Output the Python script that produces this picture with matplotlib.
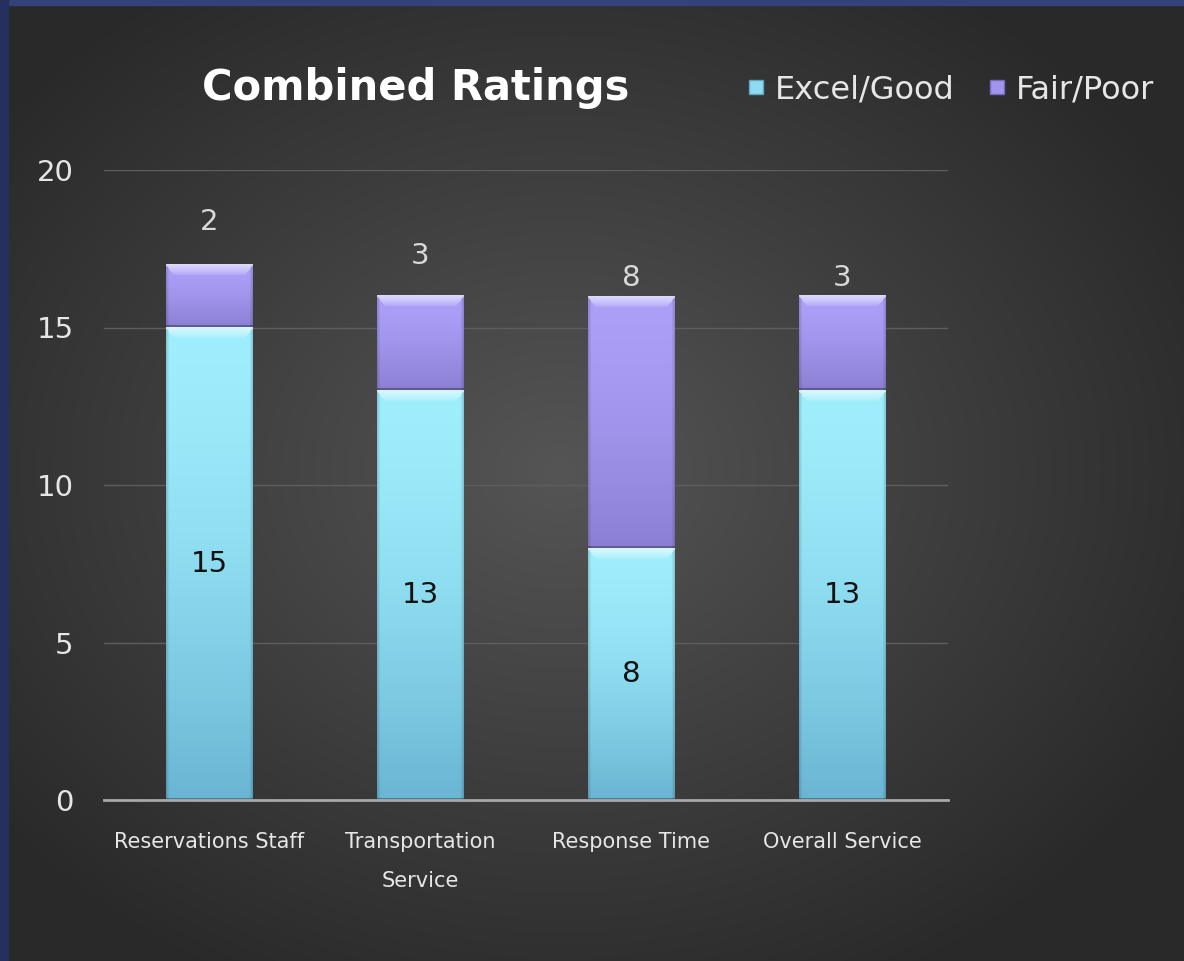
import numpy as np
import matplotlib.pyplot as plt
from matplotlib.colors import to_rgb
from matplotlib.lines import Line2D
from matplotlib.patches import Rectangle

# data
categories = ["Reservations Staff", "Transportation\nService", "Response Time", "Overall Service"]
excel_good = [15, 13, 8, 13]
fair_poor = [2, 3, 8, 3]
yticks = [0, 5, 10, 15, 20]

# label lift above the stacks (pixels), as placed in the original
fp_label_lift = [42, 40, 18, 18]

good_top, good_bot = "#9eeefd", "#69b5d3"
poor_top, poor_bot = "#ab9ff8", "#8a7fd2"

W, H, DPI = 1184, 961, 100
fig = plt.figure(figsize=(W / DPI, H / DPI), dpi=DPI)

# background: dark panel with a soft radial glow + blue frame strips
bg = fig.add_axes([0, 0, 1, 1], zorder=-10)
bg.set_axis_off()
yy, xx = np.mgrid[0:H, 0:W]
r = np.sqrt(((xx - 560) / 720.0) ** 2 + ((yy - 470) / 580.0) ** 2)
t = np.clip(r, 0, 1) ** 1.0
c_in = np.array(to_rgb("#555555"))
c_out = np.array(to_rgb("#292929"))
img = c_in[None, None, :] * (1 - t[..., None]) + c_out[None, None, :] * t[..., None]
bg.imshow(img, extent=[0, 1, 0, 1], aspect="auto", origin="upper")
bg.set_xlim(0, 1)
bg.set_ylim(0, 1)
bg.add_patch(Rectangle((0, 1 - 5 / H), 1, 5 / H, color="#34427a", transform=bg.transAxes))
bg.add_patch(Rectangle((0, 0), 8 / W, 1, color="#25305f", transform=bg.transAxes))

ax = fig.add_axes([104 / W, 1 - 800 / H, 844 / W, 630 / H])
ax.patch.set_alpha(0)
x = np.arange(len(categories))
width = 0.41

b1 = ax.bar(x, excel_good, width, color=good_top, edgecolor="none", zorder=2, label="Excel/Good")
b2 = ax.bar(x, fair_poor, width, bottom=excel_good, color=poor_top, edgecolor="none", zorder=2,
            label="Fair/Poor")

ax.set_xlim(-0.5, len(categories) - 0.5)
ax.set_ylim(0, 20)


def shaded(top, bot, w_px, h_px):
    # vertical gradient with a light bevel at the top and darker sides
    top = np.array(to_rgb(top))
    bot = np.array(to_rgb(bot))
    h_px = max(int(h_px), 4)
    w_px = max(int(w_px), 4)
    v = (np.linspace(0, 1, h_px) ** 1.6)[:, None, None]
    im = top * (1 - v) + bot * v
    im = np.repeat(im, w_px, axis=1)
    col = np.linspace(-1, 1, w_px)
    side = 1 - 0.15 * np.clip(np.abs(col) * 14 - 13, 0, 1)
    im = im * side[None, :, None]
    bevel = min(11, h_px // 3)
    for i in range(bevel):
        k = 0.6 * (1 - i / bevel) ** 0.7
        inset = int(w_px * 0.1 * i / max(bevel, 1))
        im[i, inset:w_px - inset] = im[i, inset:w_px - inset] + (1 - im[i, inset:w_px - inset]) * k
    im[-2:] = im[-2:] * 0.7
    return np.clip(im, 0, 1)


fig.canvas.draw()
px_per_x = ax.transData.transform((1, 0))[0] - ax.transData.transform((0, 0))[0]
px_per_y = ax.transData.transform((0, 1))[1] - ax.transData.transform((0, 0))[1]

for bars, top, bot in ((b1, good_top, good_bot), (b2, poor_top, poor_bot)):
    for p in bars:
        x0, y0, w, h = p.get_x(), p.get_y(), p.get_width(), p.get_height()
        im = shaded(top, bot, w * px_per_x, h * px_per_y)
        ax.imshow(im, extent=[x0, x0 + w, y0, y0 + h], aspect="auto", origin="upper",
                  zorder=3, interpolation="bilinear")

ax.set_xlim(-0.5, len(categories) - 0.5)
ax.set_ylim(0, 20)

# value labels
for p, v in zip(b1, excel_good):
    ax.text(p.get_x() + p.get_width() / 2, p.get_y() + p.get_height() / 2, str(v),
            ha="center", va="center", fontsize=21, color="#111111", zorder=5)
for p, v, lift in zip(b2, fair_poor, fp_label_lift):
    ax.annotate(str(v), (p.get_x() + p.get_width() / 2, p.get_y() + p.get_height()),
                xytext=(0, lift), textcoords="offset pixels", ha="center", va="center",
                fontsize=21, color="#d9d9d9", zorder=5)

ax.set_yticks(yticks)
ax.set_xticks(x)
ax.set_xticklabels(categories, fontsize=15, color="#e6e6e6", linespacing=2.2)
ax.tick_params(axis="x", length=0, pad=23)
ax.tick_params(axis="y", length=0, pad=22, labelsize=21, labelcolor="#e6e6e6")
ax.yaxis.grid(True, color="#5e5e5e", linewidth=1, zorder=0)
ax.set_axisbelow(True)
for s in ("top", "right", "left"):
    ax.spines[s].set_visible(False)
ax.spines["bottom"].set_color("#a8a8a8")
ax.spines["bottom"].set_linewidth(2)
ax.spines["bottom"].set_zorder(4)

fig.text(416 / W, 1 - 88 / H, "Combined Ratings", ha="center", va="center",
         fontsize=30, fontweight="bold", color="white")

handles = [
    Line2D([], [], marker="s", ls="", ms=10, mfc="#8fdcf2", mec="#5aa6c4"),
    Line2D([], [], marker="s", ls="", ms=10, mfc="#a196ee", mec="#7468c0"),
]
fig.legend(handles, ["Excel/Good", "Fair/Poor"], loc="center left",
           bbox_to_anchor=(748 / W, 1 - 90 / H), ncol=2, frameon=False,
           fontsize=23, labelcolor="#e6e6e6", handlelength=0.5, handletextpad=0.33,
           columnspacing=1.1, borderpad=0, borderaxespad=0)

fig.savefig("out.png", dpi=DPI)
